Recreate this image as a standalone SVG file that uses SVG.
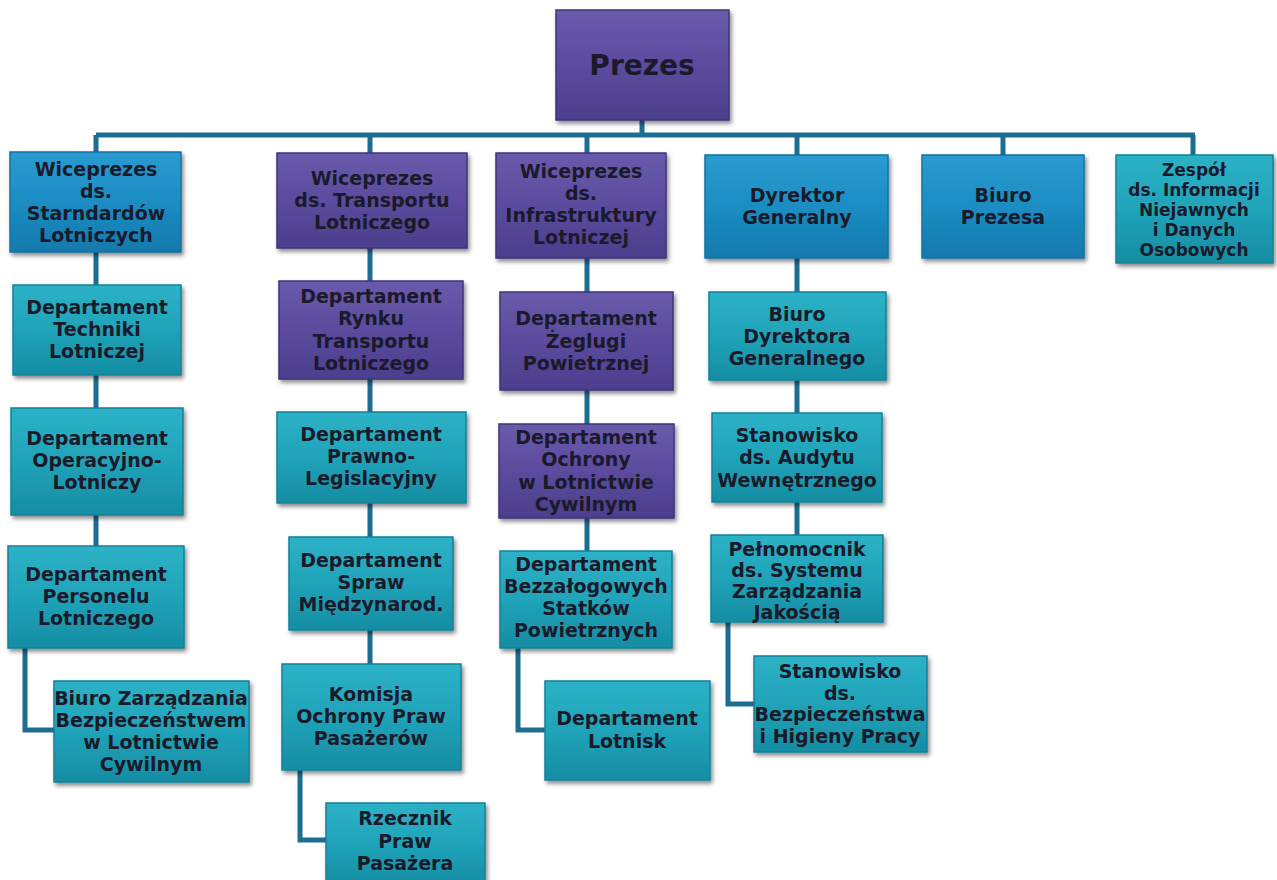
<svg xmlns="http://www.w3.org/2000/svg" width="1277" height="880" viewBox="0 0 1277 880">
<defs>
<linearGradient id="gBlue" x1="0" y1="0" x2="0" y2="1"><stop offset="0" stop-color="#2a9bd0"/><stop offset="0.5" stop-color="#1b8dc3"/><stop offset="1" stop-color="#1479ad"/></linearGradient>
<linearGradient id="gTeal" x1="0" y1="0" x2="0" y2="1"><stop offset="0" stop-color="#2db2c6"/><stop offset="0.5" stop-color="#20a3b9"/><stop offset="1" stop-color="#168da3"/></linearGradient>
<linearGradient id="gPurp" x1="0" y1="0" x2="0" y2="1"><stop offset="0" stop-color="#6a5aab"/><stop offset="0.5" stop-color="#5b4b9e"/><stop offset="1" stop-color="#4c3e8c"/></linearGradient>
<filter id="sh" x="-10%" y="-10%" width="125%" height="130%"><feDropShadow dx="2" dy="3" stdDeviation="2" flood-color="#000" flood-opacity="0.45"/></filter>
</defs>
<style>
.b{filter:url(#sh);stroke-width:1.5}
.blue{fill:url(#gBlue);stroke:#14729f}
.teal{fill:url(#gTeal);stroke:#12819a}
.purp{fill:url(#gPurp);stroke:#3f3379}
.hl{fill:none;stroke:#ffffff;stroke-opacity:0.35;stroke-width:2}
text{font-family:"DejaVu Sans","Liberation Sans",sans-serif;font-weight:bold;font-size:19px;fill:#1a1a2a;text-anchor:middle}
.c{fill:none;stroke:#1d6d92;stroke-width:5}
</style>
<rect width="1277" height="880" fill="#ffffff"/>
<g id="connectors">
<path class="c" d="M642 118V135M96 135H1195M96 135V250M370 135V250M587 135V250M797 135V250M1003 135V250M1193 135V250"/>
<path class="c" d="M96 250V546M25 646V730H54"/>
<path class="c" d="M370 246V664M300 768V840H326"/>
<path class="c" d="M587 256V551M518 646V730H545"/>
<path class="c" d="M797 256V535M728 620V704H754"/>
</g>
<g id="prezes"><rect class="b purp" x="556" y="10" width="173" height="110"/><text x="642" y="75" style="font-size:28px">Prezes</text></g>
<g id="wp_std"><rect class="b blue" x="10" y="152" width="171" height="100"/><text x="96"><tspan x="96" y="176">Wiceprezes</tspan><tspan x="96" y="198">ds.</tspan><tspan x="96" y="220">Starndardów</tspan><tspan x="96" y="242">Lotniczych</tspan></text></g>
<g id="wp_tr"><rect class="b purp" x="277" y="153" width="190" height="95"/><text><tspan x="372" y="185">Wiceprezes</tspan><tspan x="372" y="207">ds. Transportu</tspan><tspan x="372" y="229">Lotniczego</tspan></text></g>
<g id="wp_inf"><rect class="b purp" x="496" y="153" width="170" height="105"/><text><tspan x="581" y="178">Wiceprezes</tspan><tspan x="581" y="200">ds.</tspan><tspan x="581" y="222">Infrastruktury</tspan><tspan x="581" y="244">Lotniczej</tspan></text></g>
<g id="dg"><rect class="b blue" x="705" y="155" width="183" height="103"/><text><tspan x="797" y="202">Dyrektor</tspan><tspan x="797" y="224">Generalny</tspan></text></g>
<g id="bp"><rect class="b blue" x="922" y="155" width="162" height="103"/><text><tspan x="1003" y="202">Biuro</tspan><tspan x="1003" y="224">Prezesa</tspan></text></g>
<g id="zespol"><rect class="b teal" x="1116" y="155" width="157" height="108"/><text style="font-size:17px"><tspan x="1194" y="176">Zespół</tspan><tspan x="1194" y="196">ds. Informacji</tspan><tspan x="1194" y="216">Niejawnych</tspan><tspan x="1194" y="236">i Danych</tspan><tspan x="1194" y="256">Osobowych</tspan></text></g>
<g id="d_tech"><rect class="b teal" x="13" y="285" width="168" height="90"/><text><tspan x="97" y="314">Departament</tspan><tspan x="97" y="336">Techniki</tspan><tspan x="97" y="358">Lotniczej</tspan></text></g>
<g id="d_oper"><rect class="b teal" x="11" y="408" width="172" height="107"/><text><tspan x="97" y="445">Departament</tspan><tspan x="97" y="467">Operacyjno-</tspan><tspan x="97" y="489">Lotniczy</tspan></text></g>
<g id="d_pers"><rect class="b teal" x="8" y="546" width="176" height="102"/><text><tspan x="96" y="581">Departament</tspan><tspan x="96" y="603">Personelu</tspan><tspan x="96" y="625">Lotniczego</tspan></text></g>
<g id="b_zarz"><rect class="b teal" x="54" y="681" width="195" height="101"/><text><tspan x="151" y="705">Biuro Zarządzania</tspan><tspan x="151" y="727">Bezpieczeństwem</tspan><tspan x="151" y="749">w Lotnictwie</tspan><tspan x="151" y="771">Cywilnym</tspan></text></g>
<g id="d_rynku"><rect class="b purp" x="279" y="281" width="184" height="98"/><text><tspan x="371" y="303">Departament</tspan><tspan x="371" y="325">Rynku</tspan><tspan x="371" y="348">Transportu</tspan><tspan x="371" y="370">Lotniczego</tspan></text></g>
<g id="d_prawno"><rect class="b teal" x="277" y="412" width="189" height="91"/><text><tspan x="371" y="441">Departament</tspan><tspan x="371" y="463">Prawno-</tspan><tspan x="371" y="485">Legislacyjny</tspan></text></g>
<g id="d_spraw"><rect class="b teal" x="289" y="537" width="164" height="93"/><text><tspan x="371" y="567">Departament</tspan><tspan x="371" y="589">Spraw</tspan><tspan x="371" y="611">Międzynarod.</tspan></text></g>
<g id="komisja"><rect class="b teal" x="282" y="664" width="179" height="106"/><text><tspan x="371" y="701">Komisja</tspan><tspan x="371" y="723">Ochrony Praw</tspan><tspan x="371" y="745">Pasażerów</tspan></text></g>
<g id="rzecznik"><rect class="b teal" x="326" y="803" width="159" height="82"/><text><tspan x="405" y="825">Rzecznik</tspan><tspan x="405" y="848">Praw</tspan><tspan x="405" y="870">Pasażera</tspan></text></g>
<g id="d_zegl"><rect class="b purp" x="500" y="292" width="173" height="98"/><text><tspan x="586" y="325">Departament</tspan><tspan x="586" y="348">Żeglugi</tspan><tspan x="586" y="370">Powietrznej</tspan></text></g>
<g id="d_ochr"><rect class="b purp" x="499" y="424" width="175" height="94"/><text><tspan x="586" y="444">Departament</tspan><tspan x="586" y="466">Ochrony</tspan><tspan x="586" y="489">w Lotnictwie</tspan><tspan x="586" y="511">Cywilnym</tspan></text></g>
<g id="d_bezz"><rect class="b teal" x="500" y="551" width="172" height="97"/><text><tspan x="586" y="571">Departament</tspan><tspan x="586" y="593">Bezzałogowych</tspan><tspan x="586" y="615">Statków</tspan><tspan x="586" y="637">Powietrznych</tspan></text></g>
<g id="d_lotn"><rect class="b teal" x="545" y="681" width="165" height="99"/><text><tspan x="627" y="725">Departament</tspan><tspan x="627" y="748">Lotnisk</tspan></text></g>
<g id="b_dg"><rect class="b teal" x="709" y="292" width="177" height="88"/><text><tspan x="797" y="321">Biuro</tspan><tspan x="797" y="343">Dyrektora</tspan><tspan x="797" y="365">Generalnego</tspan></text></g>
<g id="st_aud"><rect class="b teal" x="712" y="413" width="170" height="89"/><text><tspan x="797" y="442">Stanowisko</tspan><tspan x="797" y="464">ds. Audytu</tspan><tspan x="797" y="487">Wewnętrznego</tspan></text></g>
<g id="pelnom"><rect class="b teal" x="711" y="535" width="172" height="87"/><text><tspan x="797" y="556">Pełnomocnik</tspan><tspan x="797" y="577">ds. Systemu</tspan><tspan x="797" y="598">Zarządzania</tspan><tspan x="797" y="619">Jakością</tspan></text></g>
<g id="st_bhp"><rect class="b teal" x="754" y="656" width="173" height="96"/><text><tspan x="840" y="678">Stanowisko</tspan><tspan x="840" y="700">ds.</tspan><tspan x="840" y="721">Bezpieczeństwa</tspan><tspan x="840" y="743">i Higieny Pracy</tspan></text></g>
</svg>
